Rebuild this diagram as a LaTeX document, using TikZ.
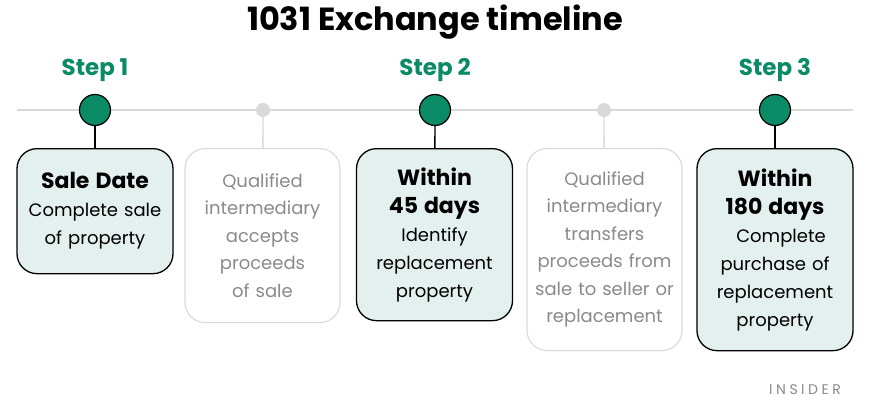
\documentclass[tikz,border=0pt]{standalone}
\usepackage{fontspec}
\setmainfont{Poppins}
\usepackage{tikz}
\usetikzlibrary{positioning}
\definecolor{stepgreen}{HTML}{0B8A66}
\definecolor{mint}{HTML}{E3F0EE}
\definecolor{lightgray}{HTML}{D9D9D9}
\definecolor{softgray}{HTML}{8A8A8A}

\begin{document}
\begin{tikzpicture}[x=1pt,y=-1pt]
        \useasboundingbox[fill=white] (0,0) rectangle (870,400);
        \tikzstyle{stepbox} = [draw=black, line width=1.3pt, fill=mint, rounded corners=20pt,
          minimum width=156pt, text width=148pt, align=center, anchor=north,
          font=\fontsize{18}{28}\selectfont]
        \tikzstyle{qibox} = [draw=lightgray, line width=1.1pt, fill=white, rounded corners=20pt,
          minimum width=155pt, text width=148pt, align=center, anchor=north, text=softgray,
          font=\fontsize{18}{27.5}\selectfont]
        \tikzstyle{bigdot} = [circle, draw=black, line width=1.2pt, fill=stepgreen, minimum size=31pt, inner sep=0pt]
        \tikzstyle{smalldot} = [circle, fill=lightgray, minimum size=14pt, inner sep=0pt]
        \tikzstyle{steplabel} = [text=stepgreen, font=\fontsize{23}{26}\selectfont\bfseries]
        % title and timeline
        \node (title) at (435,22) {\fontsize{32}{36}\selectfont\bfseries 1031 Exchange timeline};
        \coordinate (lstart) at (17,110);
        \coordinate (lend) at (853,110);
        \draw[lightgray, line width=1.3pt] (lstart)--(lend);
        % dots on the line
        \node[bigdot] (c1) at (95,110) {};
        \node[smalldot] (c2) at (263,110) {};
        \node[bigdot] (c3) at (435,110) {};
        \node[smalldot] (c4) at (604,110) {};
        \node[bigdot] (c5) at (775,110) {};
        \node[steplabel] (s1) at (95,70) {Step 1};
        \node[steplabel] (s2) at (435,70) {Step 2};
        \node[steplabel] (s3) at (775,70) {Step 3};
        % boxes
        \node[stepbox, minimum height=125pt] (b1) at (95,148)
          {{\fontsize{22}{29}\selectfont\bfseries Sale Date}\\Complete sale\\of property};
        \node[qibox, minimum height=174pt] (b2) at (262.5,148)
          {Qualified\\intermediary\\accepts\\proceeds\\of sale};
        \node[stepbox, minimum height=172pt] (b3) at (434.5,148)
          {{\fontsize{22}{29}\selectfont\bfseries Within\\45 days}\\Identify\\replacement\\property};
        \node[qibox, minimum height=202pt] (b4) at (604.5,148)
          {Qualified\\intermediary\\transfers\\proceeds from\\sale to seller or\\replacement};
        \node[stepbox, minimum height=202pt] (b5) at (775,148)
          {{\fontsize{22}{29}\selectfont\bfseries Within\\180 days}\\\ \ Complete\\purchase of\\replacement\\property};
        % connectors
        \draw[line width=1.3pt] (c1)--(b1);
        \draw[lightgray, line width=1.3pt] (c2)--(b2);
        \draw[line width=1.3pt] (c3)--(b3);
        \draw[lightgray, line width=1.3pt] (c4)--(b4);
        \draw[line width=1.3pt] (c5)--(b5);
        \node[text=softgray, font=\fontsize{14}{16}\selectfont\addfontfeatures{LetterSpace=25}] (insider) at (805,390) {INSIDER};
\end{tikzpicture}
\end{document}
